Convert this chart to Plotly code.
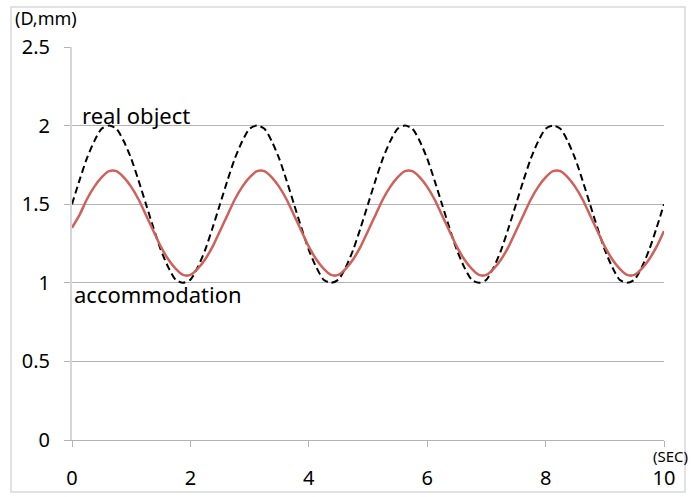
import plotly.graph_objects as go

# time axis, 0.125 s steps
time_sec = [i * 0.125 for i in range(81)]

# one cycle (2.5 s period), 20 samples each
real_cycle = [1.50, 1.65, 1.79, 1.90, 1.98, 2.00, 1.98, 1.90, 1.79, 1.65,
              1.50, 1.35, 1.21, 1.10, 1.02, 1.00, 1.02, 1.10, 1.21, 1.35]
accom_cycle = [1.33, 1.43, 1.53, 1.61, 1.67, 1.71, 1.71, 1.67, 1.61, 1.53,
               1.43, 1.33, 1.23, 1.15, 1.09, 1.05, 1.05, 1.09, 1.15, 1.23]

real_object = real_cycle * 4 + [1.50]
accommodation = accom_cycle * 4 + [1.33]
accommodation[0] = 1.35

x_ticks = [0, 2, 4, 6, 8, 10]
y_ticks = [0, 0.5, 1, 1.5, 2, 2.5]

W, H = 693, 497
L, R, T, B = 72, 29, 47, 57
pw, ph = W - L - R, H - T - B

fig = go.Figure()
fig.add_trace(go.Scatter(x=time_sec, y=real_object, mode="lines", name="real object",
                         line=dict(color="black", width=2, dash="7px,4px",
                                   shape="spline", smoothing=0.7)))
fig.add_trace(go.Scatter(x=time_sec, y=accommodation, mode="lines", name="accommodation",
                         line=dict(color="#d0605a", width=2.5, shape="spline", smoothing=0.7)))

font = "Noto Sans, Open Sans, sans-serif"
fig.update_layout(
    width=W, height=H,
    margin=dict(l=L, r=R, t=T, b=B, autoexpand=False),
    paper_bgcolor="white", plot_bgcolor="white",
    showlegend=False,
    font=dict(family=font, color="black"),
)
fig.update_xaxes(range=[0, 10], tickvals=x_ticks, showgrid=False, zeroline=False,
                 showline=True, linecolor="#b3b3b3", linewidth=1, automargin=False,
                 ticks="outside", ticklen=6, tickcolor="#b3b3b3",
                 ticklabelstandoff=14, tickfont=dict(size=20))
fig.update_yaxes(range=[0, 2.5], tickvals=y_ticks, showgrid=True, gridcolor="#b3b3b3",
                 gridwidth=1, zeroline=False, showline=True, linecolor="#d6d6d6",
                 linewidth=2, automargin=False, ticks="outside", ticklen=6,
                 tickcolor="#b3b3b3", ticklabelstandoff=10, tickfont=dict(size=20))

# outer frame round the whole chart
def px_x(p):
    return (p - L) / pw

def px_y(p):
    return (H - B - p) / ph

fig.add_shape(type="rect", xref="paper", yref="paper",
              x0=px_x(11), x1=px_x(685), y0=px_y(492), y1=px_y(7),
              line=dict(color="#d9d9d9", width=1.5), layer="below")

fig.add_annotation(x=0.13, y=2.07, text="real object", showarrow=False,
                   xanchor="left", yanchor="middle", font=dict(size=22))
fig.add_annotation(x=0.0, y=0.93, text="accommodation", showarrow=False,
                   xanchor="left", yanchor="middle", font=dict(size=22))
fig.add_annotation(x=px_x(13), y=px_y(18), xref="paper", yref="paper", text="(D,mm)",
                   showarrow=False, xanchor="left", yanchor="middle", font=dict(size=18))
fig.add_annotation(x=px_x(690), y=px_y(456), xref="paper", yref="paper", text="(SEC)",
                   showarrow=False, xanchor="right", yanchor="middle", font=dict(size=15))

# the page's default body margin would shift the figure by 8px
fig.write_html("out.html", config={"displayModeBar": False},
               post_script="document.body.style.margin='0';")
